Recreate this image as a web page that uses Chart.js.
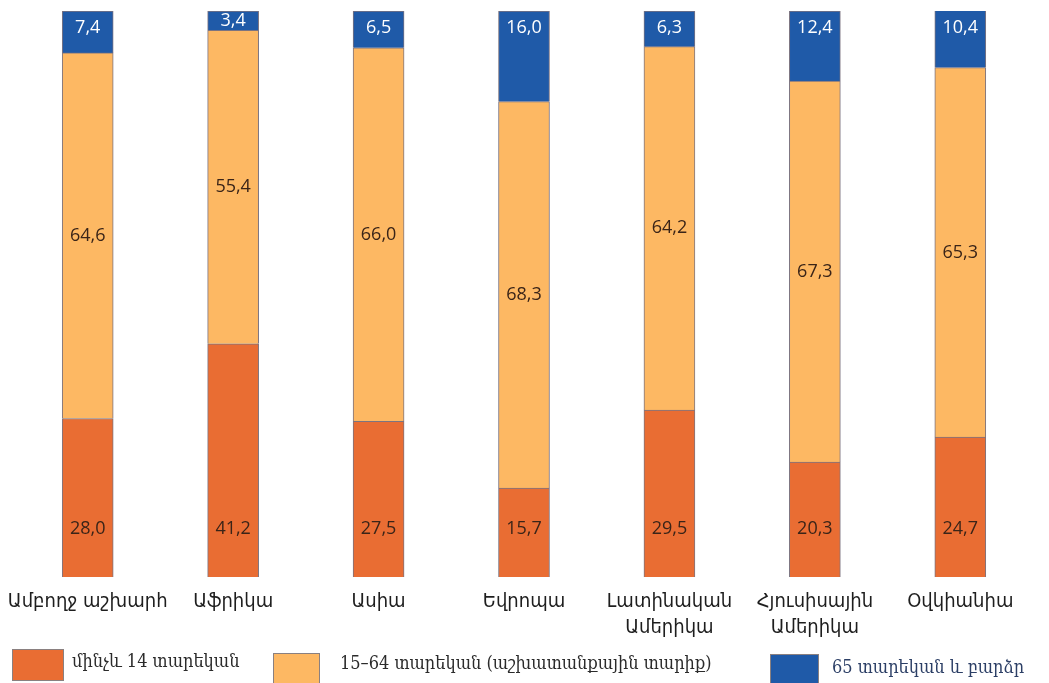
<!DOCTYPE html>
<html>
<head>
<meta charset="utf-8">
<script src="https://cdn.jsdelivr.net/npm/chart.js@4/dist/chart.umd.min.js"></script>
<style>
  body { margin: 0; background: #fff; }
  #wrap { position: relative; width: 1049px; height: 683px; }
  .key { position: absolute; font-family: "DejaVu Serif Condensed", "DejaVu Serif", serif; font-size: 18px; color: #2b2b2b; white-space: nowrap; }
  .box { position: absolute; border: 1px solid #8a8080; }
</style>
</head>
<body>
<div id="wrap">
  <canvas id="ageChart" width="1049" height="683"></canvas>
</div>
<script>
const regions = [
  "Ամբողջ աշխարհ", "Աֆրիկա", "Ասիա", "Եվրոպա",
  ["Լատինական", "Ամերիկա"], ["Հյուսիսային", "Ամերիկա"], "Օվկիանիա"
];
const under14 = [28.0, 41.2, 27.5, 15.7, 29.5, 20.3, 24.7];
const age15to64 = [64.6, 55.4, 66.0, 68.3, 64.2, 67.3, 65.3];
const over65 = [7.4, 3.4, 6.5, 16.0, 6.3, 12.4, 10.4];
const seriesNames = ["մինչև 14 տարեկան", "15–64 տարեկան (աշխատանքային տարիք)", "65 տարեկան և բարձր"];
const colors = ["#e96d33", "#fdb863", "#1f5aa8"];

const fmt = v => v.toFixed(1).replace(".", ",");

const valueLabels = {
  id: "valueLabels",
  afterDatasetsDraw(chart) {
    const ctx = chart.ctx;
    ctx.save();
    ctx.font = "18px 'Open Sans', sans-serif";
    ctx.textAlign = "center";
    ctx.textBaseline = "middle";
    chart.data.datasets.forEach((ds, i) => {
      chart.getDatasetMeta(i).data.forEach((bar, j) => {
        const top = Math.max(bar.y, chart.chartArea.top);
        const bottom = bar.base;
        let y;
        if (i === 0) y = bottom - 48;
        else if (i === 1) y = (top + bottom) / 2;
        else y = Math.min(top + 17, (top + bottom) / 2);
        ctx.fillStyle = i === 2 ? "#ffffff" : "#3a2418";
        ctx.fillText(fmt(ds.data[j]), bar.x, y);
      });
    });
    ctx.restore();
  }
};

new Chart(document.getElementById("ageChart"), {
  type: "bar",
  data: {
    labels: regions,
    datasets: [under14, age15to64, over65].map((d, i) => ({
      label: seriesNames[i],
      data: d,
      backgroundColor: colors[i],
      borderColor: "#7c7480",
      borderWidth: 1,
      barThickness: 51
    }))
  },
  options: {
    responsive: false,
    animation: false,
    layout: { padding: { left: 15, right: 16, top: 11, bottom: 38 } },
    plugins: { legend: { display: false }, tooltip: { enabled: false } },
    scales: {
      x: {
        stacked: true,
        grid: { display: false },
        border: { display: false },
        ticks: {
          color: "#1e1e1e",
          padding: 4,
          autoSkip: false,
          maxRotation: 0,
          font: { family: "'DejaVu Sans Condensed', 'DejaVu Sans', sans-serif", size: 20, lineHeight: 1.3 }
        }
      },
      y: { stacked: true, display: false, min: 0, max: 100 }
    }
  },
  plugins: [valueLabels]
});

// legend below the chart, laid out like the printed key
const wrap = document.getElementById("wrap");
const keyPos = [
  { box: [12, 649, 50, 30], text: 72, ty: 650 },
  { box: [273, 653, 45, 32], text: 340, ty: 652 },
  { box: [770, 654, 47, 31], text: 832, ty: 656 }
];
keyPos.forEach((k, i) => {
  const b = document.createElement("div");
  b.className = "box";
  b.style.cssText = `left:${k.box[0]}px;top:${k.box[1]}px;width:${k.box[2]}px;height:${k.box[3]}px;background:${colors[i]}`;
  wrap.appendChild(b);
  const t = document.createElement("div");
  t.className = "key";
  t.textContent = seriesNames[i];
  t.style.left = k.text + "px";
  t.style.top = k.ty + "px";
  if (i === 2) t.style.color = "#2c3f66";
  wrap.appendChild(t);
});
</script>
</body>
</html>
